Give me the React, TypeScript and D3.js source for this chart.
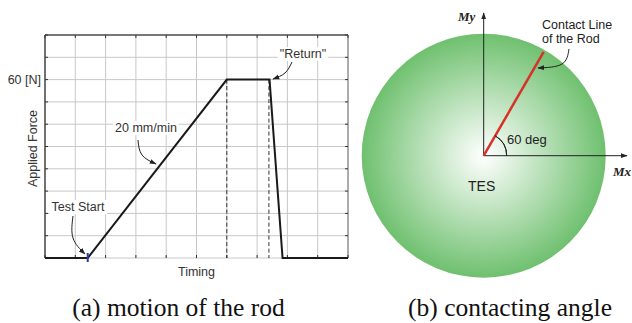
import React, { useEffect, useRef } from 'react';
import * as d3 from 'd3';

// left panel: applied force vs timing (grid units)
const timing = [0, 1.41, 6.0, 7.41, 7.84, 10];
const force = [0, 0, 60, 60, 0, 0];
const dashedAt = [6.0, 7.39];
const xGrid = d3.range(0, 11);
const yGrid = d3.range(0, 11).map(i => i * 7.5);
const testStart = 1.41;

// right panel: contact angle
const contactDeg = 60;

const App = () => {
  const ref = useRef<SVGSVGElement>(null);

  useEffect(() => {
    const svg = d3.select(ref.current);
    svg.selectAll('*').remove();
    const font = 'Liberation Sans, Arial, sans-serif';
    const serif = 'Liberation Serif, Times New Roman, serif';

    const defs = svg.append('defs');
    defs.append('marker')
      .attr('id', 'ah')
      .attr('viewBox', '0 0 10 10')
      .attr('refX', 9).attr('refY', 5)
      .attr('markerWidth', 7).attr('markerHeight', 7)
      .attr('orient', 'auto')
      .append('path').attr('d', 'M0,1.5 L10,5 L0,8.5 Z').attr('fill', '#222');

    // ---------- left chart ----------
    const x = d3.scaleLinear().domain([0, 10]).range([45, 348]);
    const y = d3.scaleLinear().domain([0, 75]).range([258, 35]);
    const g = svg.append('g');

    g.selectAll('.vg').data(xGrid).enter().append('line')
      .attr('x1', d => x(d)).attr('x2', d => x(d))
      .attr('y1', y(0)).attr('y2', y(75))
      .attr('stroke', '#c8c8c8').attr('stroke-width', 1);
    g.selectAll('.hg').data(yGrid).enter().append('line')
      .attr('y1', d => y(d)).attr('y2', d => y(d))
      .attr('x1', x(0)).attr('x2', x(10))
      .attr('stroke', '#c8c8c8').attr('stroke-width', 1);

    // frame: dark left & top, lighter right
    g.append('line').attr('x1', x(0)).attr('x2', x(0)).attr('y1', y(0)).attr('y2', y(75))
      .attr('stroke', '#333').attr('stroke-width', 1.3);
    g.append('line').attr('x1', x(0)).attr('x2', x(10)).attr('y1', y(75)).attr('y2', y(75))
      .attr('stroke', '#555').attr('stroke-width', 1.3);
    g.append('line').attr('x1', x(10)).attr('x2', x(10)).attr('y1', y(0)).attr('y2', y(75))
      .attr('stroke', '#777').attr('stroke-width', 1);

    // inward ticks
    g.selectAll('.tt').data(xGrid).enter().append('line')
      .attr('x1', d => x(d)).attr('x2', d => x(d))
      .attr('y1', y(75)).attr('y2', y(75) + 3)
      .attr('stroke', '#333');
    g.selectAll('.bt').data(xGrid).enter().append('line')
      .attr('x1', d => x(d)).attr('x2', d => x(d))
      .attr('y1', y(0)).attr('y2', y(0) - 3)
      .attr('stroke', '#333');
    g.selectAll('.lt').data(yGrid).enter().append('line')
      .attr('y1', d => y(d)).attr('y2', d => y(d))
      .attr('x1', x(0)).attr('x2', x(0) + 3)
      .attr('stroke', '#333');
    g.selectAll('.rt').data(yGrid).enter().append('line')
      .attr('y1', d => y(d)).attr('y2', d => y(d))
      .attr('x1', x(10)).attr('x2', x(10) - 3)
      .attr('stroke', '#333');

    // dashed drops
    g.selectAll('.dash').data(dashedAt).enter().append('line')
      .attr('x1', d => x(d)).attr('x2', d => x(d))
      .attr('y1', y(60)).attr('y2', y(0))
      .attr('stroke', '#333').attr('stroke-width', 1)
      .attr('stroke-dasharray', '4,2.5');

    const line = d3.line<number>()
      .x((_, i) => x(timing[i]))
      .y(d => y(d));
    g.append('path').datum(force)
      .attr('d', line)
      .attr('fill', 'none').attr('stroke', '#1a1a1a').attr('stroke-width', 2)
      .attr('stroke-linejoin', 'miter');

    g.append('line')
      .attr('x1', x(testStart)).attr('x2', x(testStart))
      .attr('y1', y(0) - 5).attr('y2', y(0) + 4)
      .attr('stroke', '#2a3aa0').attr('stroke-width', 2);

    // labels with white backgrounds
    const boxed = (tx: number, ty: number, txt: string, anchor: string) => {
      const t = g.append('text').attr('x', tx).attr('y', ty)
        .attr('text-anchor', anchor)
        .attr('font-family', font).attr('font-size', 12.5).attr('fill', '#333')
        .text(txt);
      const b = (t.node() as SVGTextElement).getBBox();
      g.insert('rect', () => t.node())
        .attr('x', b.x - 2).attr('y', b.y).attr('width', b.width + 4).attr('height', b.height)
        .attr('fill', '#fff');
    };
    boxed(78, 211, 'Test Start', 'middle');
    boxed(146, 132, '20 mm/min', 'middle');
    boxed(303, 58, '"Return"', 'middle');

    const curve = (pts: [number, number][]) =>
      g.append('path')
        .attr('d', d3.line().curve(d3.curveNatural)(pts))
        .attr('fill', 'none').attr('stroke', '#222').attr('stroke-width', 1)
        .attr('marker-end', 'url(#ah)');
    curve([[73, 216], [73, 238], [85, 254]]);
    curve([[138, 140], [142, 155], [156, 164]]);
    curve([[292, 62], [285, 73], [273, 79]]);

    g.append('text').attr('x', 41).attr('y', y(60) + 4)
      .attr('text-anchor', 'end').attr('font-family', font).attr('font-size', 12.5)
      .attr('fill', '#333').text('60 [N]');
    g.append('text')
      .attr('transform', `translate(37,${(y(0) + y(75)) / 2 + 2}) rotate(-90)`)
      .attr('text-anchor', 'middle').attr('font-family', font).attr('font-size', 12.5)
      .attr('fill', '#333').text('Applied Force');
    g.append('text').attr('x', x(5)).attr('y', 276)
      .attr('text-anchor', 'middle').attr('font-family', font).attr('font-size', 12.5)
      .attr('fill', '#333').text('Timing');

    // ---------- right chart ----------
    const cx = 483.7, cy = 155.7, r = 122;
    const grad = defs.append('radialGradient').attr('id', 'tes')
      .attr('cx', '50%').attr('cy', '50%').attr('r', '50%');
    grad.append('stop').attr('offset', '0%').attr('stop-color', '#ffffff');
    grad.append('stop').attr('offset', '45%').attr('stop-color', '#bfe3bf');
    grad.append('stop').attr('offset', '100%').attr('stop-color', '#6fc06f');
    const rg = svg.append('g');
    rg.append('circle').attr('cx', cx).attr('cy', cy).attr('r', r).attr('fill', 'url(#tes)');

    rg.append('line').attr('x1', cx).attr('y1', cy).attr('x2', cx).attr('y2', 13)
      .attr('stroke', '#222').attr('stroke-width', 1).attr('marker-end', 'url(#ah)');
    rg.append('line').attr('x1', cx).attr('y1', cy).attr('x2', 627).attr('y2', cy)
      .attr('stroke', '#222').attr('stroke-width', 1).attr('marker-end', 'url(#ah)');

    const rad = (contactDeg * Math.PI) / 180;
    const len = 120;
    rg.append('line').attr('x1', cx).attr('y1', cy)
      .attr('x2', cx + len * Math.cos(rad)).attr('y2', cy - len * Math.sin(rad))
      .attr('stroke', '#d8312a').attr('stroke-width', 2.5);

    const arc = d3.arc()
      .innerRadius(23).outerRadius(23)
      .startAngle(Math.PI / 2 - rad).endAngle(Math.PI / 2);
    rg.append('path').attr('transform', `translate(${cx},${cy})`)
      .attr('d', arc({} as any) as string)
      .attr('fill', 'none').attr('stroke', '#222').attr('stroke-width', 1);

    rg.append('text').attr('x', 507).attr('y', 144).attr('font-family', font)
      .attr('font-size', 13).attr('fill', '#222').text(`${contactDeg} deg`);
    rg.append('text').attr('x', 468).attr('y', 191).attr('font-family', font)
      .attr('font-size', 14).attr('fill', '#222').text('TES');
    rg.append('text').attr('x', 542).attr('y', 28.5).attr('font-family', font)
      .attr('font-size', 12.5).attr('fill', '#222').text('Contact Line');
    rg.append('text').attr('x', 542).attr('y', 43).attr('font-family', font)
      .attr('font-size', 12.5).attr('fill', '#222').text('of the Rod');
    rg.append('path')
      .attr('d', d3.line().curve(d3.curveNatural)([[569, 49], [562, 64], [538, 68]]))
      .attr('fill', 'none').attr('stroke', '#222').attr('stroke-width', 1)
      .attr('marker-end', 'url(#ah)');

    rg.append('text').attr('x', 458).attr('y', 21)
      .attr('font-family', serif)
      .attr('font-style', 'italic').attr('font-weight', 'bold')
      .attr('font-size', 13).attr('fill', '#222').text('My');
    rg.append('text').attr('x', 613).attr('y', 176)
      .attr('font-family', serif)
      .attr('font-style', 'italic').attr('font-weight', 'bold')
      .attr('font-size', 13).attr('fill', '#222').text('Mx');

    // captions
    svg.append('text').attr('x', 178.5).attr('y', 316).attr('text-anchor', 'middle')
      .attr('font-family', serif)
      .attr('font-size', 25.5).attr('fill', '#111').text('(a) motion of the rod');
    svg.append('text').attr('x', 510).attr('y', 316).attr('text-anchor', 'middle')
      .attr('font-family', serif)
      .attr('font-size', 25.5).attr('fill', '#111').text('(b) contacting angle');
  }, []);

  return (
    <svg ref={ref} width={632} height={323}
      style={{ position: 'absolute', left: 0, top: 0, background: '#fff' }} />
  );
};

export default App;
